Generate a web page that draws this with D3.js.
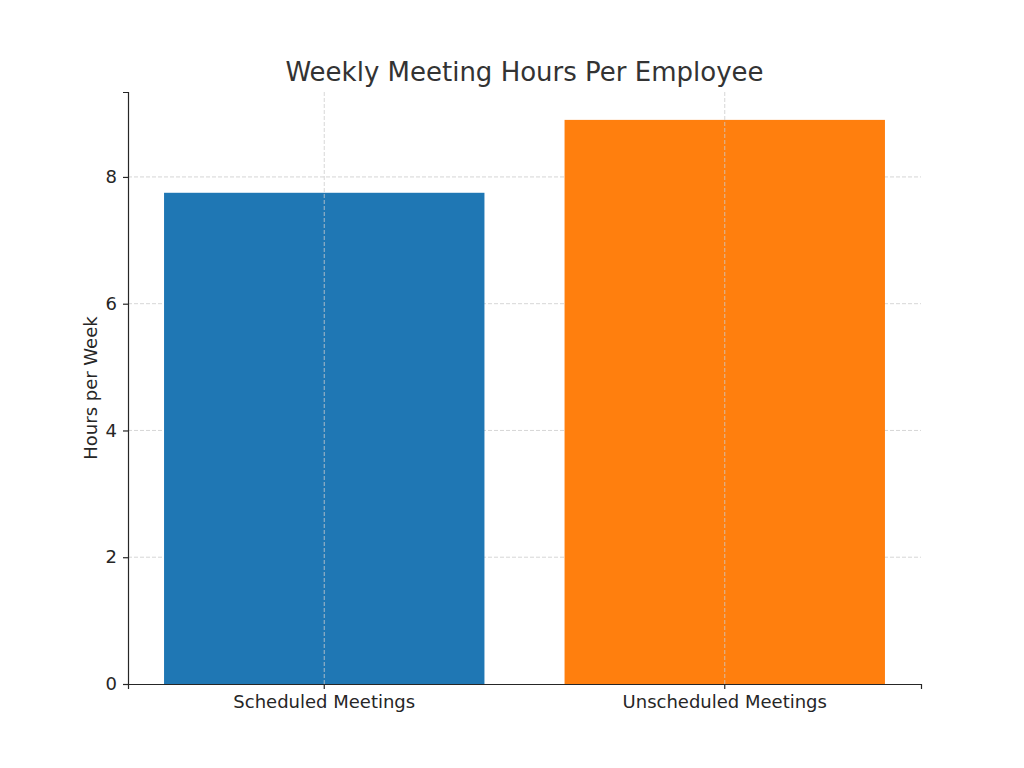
<!DOCTYPE html>
<html>
<head>
<script src="https://d3js.org/d3.v7.min.js"></script>
<style>
  body { margin: 0; background: #fff; }
  text { font-family: "DejaVu Sans", sans-serif; }
</style>
</head>
<body>
<div id="chart"></div>
<script>
const categories = ["Scheduled Meetings", "Unscheduled Meetings"];
const hours = [7.75, 8.9];
const colors = ["#1f77b4", "#ff7f0e"];
const yTicks = [0, 2, 4, 6, 8];

const w = 1024, h = 768;
const m = { left: 128, right: 103, top: 92, bottom: 84 };

const svg = d3.select("#chart").append("svg")
  .attr("width", w).attr("height", h);

const x = d3.scaleBand()
  .domain(categories)
  .range([m.left, w - m.right])
  .paddingInner(0.2)
  .paddingOuter(0.09);

const y = d3.scaleLinear()
  .domain([0, 9.34])
  .range([h - m.bottom, m.top]);

// grid
svg.append("g").selectAll("line").data(yTicks.slice(1)).join("line")
  .attr("x1", m.left).attr("x2", w - m.right)
  .attr("y1", d => y(d)).attr("y2", d => y(d))
  .attr("stroke", "#ccc").attr("stroke-dasharray", "4,2").attr("stroke-width", 0.8);

// bars
svg.append("g").selectAll("rect").data(categories).join("rect")
  .attr("x", d => x(d))
  .attr("y", (d, i) => y(hours[i]))
  .attr("width", x.bandwidth())
  .attr("height", (d, i) => y(0) - y(hours[i]))
  .attr("fill", (d, i) => colors[i]);

// vertical grid over bars
svg.append("g").selectAll("line").data(categories).join("line")
  .attr("x1", d => x(d) + x.bandwidth() / 2).attr("x2", d => x(d) + x.bandwidth() / 2)
  .attr("y1", m.top).attr("y2", h - m.bottom)
  .attr("stroke", "#ccc").attr("stroke-dasharray", "4,2").attr("stroke-width", 0.8);

// axes
const xAxis = svg.append("g")
  .attr("transform", `translate(0,${h - m.bottom})`)
  .call(d3.axisBottom(x).tickSizeOuter(0).tickSize(5).tickPadding(6));
const yAxis = svg.append("g")
  .attr("transform", `translate(${m.left},0)`)
  .call(d3.axisLeft(y).tickValues(yTicks).tickSizeOuter(0).tickSize(5).tickPadding(6));
[xAxis, yAxis].forEach(a => {
  a.selectAll("text").attr("font-size", 18).attr("fill", "#262626")
    .style("font-family", "DejaVu Sans, sans-serif");
  a.selectAll("line, path").attr("stroke", "#262626").attr("stroke-width", 1.2);
});

svg.append("text")
  .attr("x", (m.left + w - m.right) / 2).attr("y", 81)
  .attr("text-anchor", "middle").attr("font-size", 26).attr("fill", "#333")
  .text("Weekly Meeting Hours Per Employee");

svg.append("text")
  .attr("transform", `translate(97,${(m.top + h - m.bottom) / 2}) rotate(-90)`)
  .attr("text-anchor", "middle").attr("font-size", 18).attr("fill", "#262626")
  .text("Hours per Week");
</script>
</body>
</html>
